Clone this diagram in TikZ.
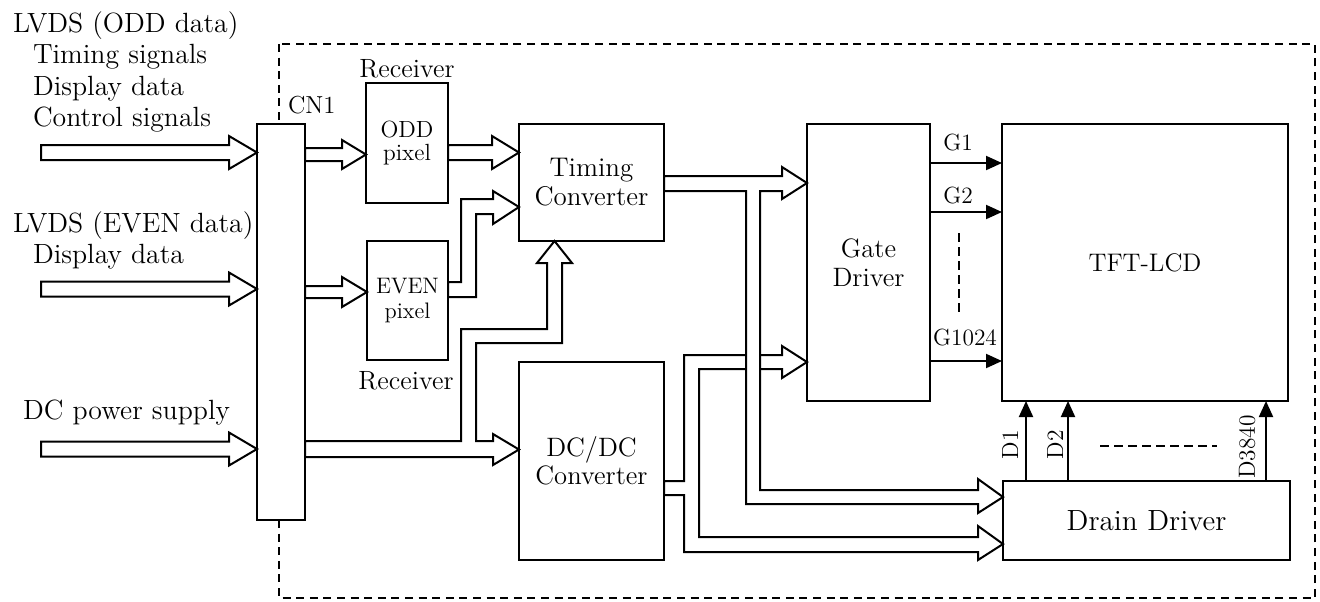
\documentclass[tikz,border=0pt]{standalone}
\usepackage{fontspec}
\usetikzlibrary{arrows.meta,calc}
\begin{document}
\begin{tikzpicture}[x=0.5pt,y=-0.5pt,
  line width=1pt,
  box/.style={draw, fill=white, inner sep=0pt, outer sep=0pt, align=center},
  wide/.style={draw, fill=white, line join=miter},
  sig/.style={-{Triangle[length=8pt,width=7pt]}},
  frame/.style={dash pattern=on 4pt off 2.8pt},
  dotline/.style={line width=0.8pt, dash pattern=on 4.5pt off 2.5pt},
  lab/.style={inner sep=0pt, anchor=base west, font=\fontsize{13.9}{15}\selectfont},
  small/.style={inner sep=0pt, font=\fontsize{11.7}{13}\selectfont},
  rcv/.style={inner sep=0pt, anchor=base, font=\fontsize{13.2}{14}\selectfont},
]
\useasboundingbox (0,0) rectangle (1320,601);

% dashed module outline
\draw[frame] (279,44) rectangle (1315,598);

% left labels
\node[lab] (t1) at (12,32) {LVDS (ODD data)};
\node[lab] (t2) at (32,63) {Timing signals};
\node[lab] (t3) at (32,95) {Display data};
\node[lab] (t4) at (32,126) {Control signals};
\node[lab] (t5) at (12,232) {LVDS (EVEN data)};
\node[lab] (t6) at (32,263) {Display data};
\node[lab] (t7) at (22,419) {DC power supply};

% boxes
\node[box, minimum width=24pt, minimum height=198pt] (CN1) at (281,322) {};
\node[small, anchor=base west, font=\fontsize{12.3}{13}\selectfont] (cnl) at (287,113) {CN1};
\node[box, minimum width=41pt, minimum height=60pt, font=\fontsize{11.7}{11.5}\selectfont] (ODD) at (407,143) {ODD\\pixel};
\node[box, minimum width=40.5pt, minimum height=59.5pt, font=\fontsize{11.2}{12.5}\selectfont] (EVEN) at (407.5,300.5) {EVEN\\pixel};
\node[rcv] (r1) at (407,77) {Receiver};
\node[rcv] (r2) at (406,389) {Receiver};
\node[box, minimum width=72.5pt, minimum height=58.5pt, font=\fontsize{13.5}{14.5}\selectfont] (Timing) at (591.5,182.5) {Timing\\Converter};
\node[box, minimum width=72.5pt, minimum height=99pt, font=\fontsize{13.3}{14}\selectfont] (DCDC) at (591.5,461) {DC/DC\\Converter};
\node[box, minimum width=61.5pt, minimum height=138.5pt, font=\fontsize{13.3}{14.5}\selectfont] (Gate) at (868.5,262.5) {Gate\\Driver};
\node[box, minimum width=143pt, minimum height=138.5pt, font=\fontsize{12.7}{14}\selectfont] (TFT) at (1145,262.5) {TFT-LCD};
\node[box, minimum width=143.5pt, minimum height=39.5pt, font=\fontsize{14.6}{16}\selectfont] (Drain) at (1146.5,520.5) {Drain Driver};

% input wide arrows
\draw[wide] (41,145) -- (229,145) -- (229,136) -- (CN1.west |- 0,152.5) -- (229,169) -- (229,160) -- (41,160) -- cycle;
\draw[wide] (41,281.5) -- (229,281.5) -- (229,272.5) -- (CN1.west |- 0,289) -- (229,305.5) -- (229,296.5) -- (41,296.5) -- cycle;
\draw[wide] (41,441.5) -- (229,441.5) -- (229,432.5) -- (CN1.west |- 0,449) -- (229,465.5) -- (229,456.5) -- (41,456.5) -- cycle;

% CN1 -> receivers
\draw[wide] (CN1.east |- 0,148) -- (342,148) -- (342,140) -- (ODD.west |- 0,154.5) -- (342,169) -- (342,161) -- (CN1.east |- 0,161) -- cycle;
\draw[wide] (CN1.east |- 0,286) -- (342,286) -- (342,277) -- (EVEN.west |- 0,292) -- (342,307) -- (342,298) -- (CN1.east |- 0,298) -- cycle;

% receivers -> timing converter
\draw[wide] (ODD.east |- 0,145) -- (492,145) -- (492,136) -- (Timing.west |- 0,152.5) -- (492,169) -- (492,160) -- (ODD.east |- 0,160) -- cycle;
\draw[wide] (EVEN.east |- 0,282) -- (461,282) -- (461,199) -- (493,199) -- (493,191) -- (Timing.west |- 0,207) -- (493,224) -- (493,214) -- (476,214) -- (476,297) -- (EVEN.east |- 0,297) -- cycle;

% DC power from CN1 -> timing converter and DC/DC converter
\draw[wide] (CN1.east |- 0,441) -- (461,441) -- (461,329) -- (547,329) -- (547,263) -- (537,263) -- (Timing.south -| 554.5,0) -- (572,263) -- (562,263) -- (562,343) -- (476,343) -- (476,441) -- (493,441) -- (493,434) -- (DCDC.west |- 0,449.5) -- (493,465) -- (493,457) -- (CN1.east |- 0,457) -- cycle;

% DC/DC outputs
\draw[wide] (DCDC.east |- 0,481) -- (684,481) -- (684,355) -- (782,355) -- (782,346) -- (Gate.west |- 0,362) -- (782,378) -- (782,369) -- (699,369) -- (699,537) -- (978,537) -- (978,526) -- (Drain.west |- 0,544) -- (978,560) -- (978,552) -- (684,552) -- (684,495) -- (DCDC.east |- 0,495) -- cycle;

% timing converter outputs
\draw[wide] (Timing.east |- 0,176) -- (782,176) -- (782,167) -- (Gate.west |- 0,183) -- (782,199) -- (782,191) -- (760,191) -- (760,490) -- (978,490) -- (978,479) -- (Drain.west |- 0,497) -- (978,513) -- (978,504) -- (746,504) -- (746,191) -- (Timing.east |- 0,191) -- cycle;

% gate lines
\draw[sig] (Gate.east |- 0,163) -- (TFT.west |- 0,163);
\draw[sig] (Gate.east |- 0,212) -- (TFT.west |- 0,212);
\draw[sig] (Gate.east |- 0,361) -- (TFT.west |- 0,361);
\node[small, anchor=base] (g1) at (958,150) {G1};
\node[small, anchor=base] (g2) at (958,203) {G2};
\node[small, anchor=base] (g3) at (965,345) {G1024};
\coordinate (gd1) at (959,233);
\coordinate (gd2) at (959,317);
\draw[dotline] (gd1) -- (gd2);

% drain lines
\draw[sig] (Drain.north -| 1026,0) -- (TFT.south -| 1026,0);
\draw[sig] (Drain.north -| 1068,0) -- (TFT.south -| 1068,0);
\draw[sig] (Drain.north -| 1266,0) -- (TFT.south -| 1266,0);
\node[small, rotate=90] (d1) at (1010,445) {D1};
\node[small, rotate=90] (d2) at (1055,445) {D2};
\node[small, rotate=90] (d3) at (1247,447) {D3840};
\coordinate (dd1) at (1100,446);
\coordinate (dd2) at (1217,446);
\draw[dotline] (dd1) -- (dd2);
\end{tikzpicture}
\end{document}
